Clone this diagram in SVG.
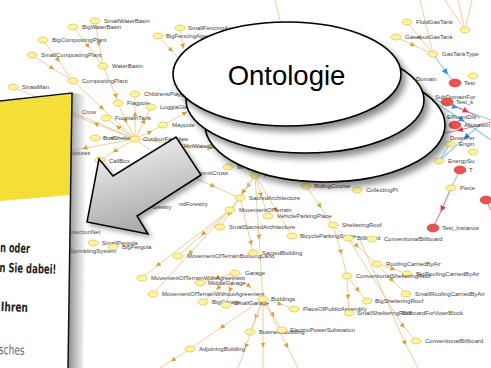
<svg xmlns="http://www.w3.org/2000/svg" width="491" height="368" viewBox="0 0 491 368">
<style>
.e{fill:none;stroke:#ecd09a;stroke-width:1;marker-mid:url(#ah)}
.b{fill:none;stroke:#8ec9f2;stroke-width:1.1;marker-mid:url(#bh)}
.re{fill:none;stroke:#e68080;stroke-width:1.1;marker-mid:url(#rh)}
.n{fill:#fdf4a2;stroke:#e2c453;stroke-width:0.8}
.r{fill:#e8524f;stroke:#d04040;stroke-width:0.6}
.l{font-family:"Liberation Sans",Arial,sans-serif;font-size:6px;fill:#404040}
.pt{font-family:"DejaVu Sans Condensed","DejaVu Sans",sans-serif;font-weight:bold;font-size:13px;fill:#1e1e1e}
.el{fill:#fff;stroke:#000;stroke-width:1.6}
</style>
<defs>
<marker id="ah" viewBox="0 0 6 6" refX="3" refY="3" markerWidth="5" markerHeight="5" orient="auto" markerUnits="userSpaceOnUse"><path d="M0,0 L6,3 L0,6 z" fill="#d9a03c"/></marker>
<marker id="bh" viewBox="0 0 6 6" refX="3" refY="3" markerWidth="6" markerHeight="6" orient="auto" markerUnits="userSpaceOnUse"><path d="M0,0 L6,3 L0,6 z" fill="#2f8fe0"/></marker>
<marker id="rh" viewBox="0 0 6 6" refX="3" refY="3" markerWidth="6" markerHeight="6" orient="auto" markerUnits="userSpaceOnUse"><path d="M0,0 L6,3 L0,6 z" fill="#e03a45"/></marker>
<pattern id="stripes" width="4" height="2" patternUnits="userSpaceOnUse"><rect width="4" height="2" fill="#f8e542"/><rect width="4" height="0.8" fill="#eed52a"/></pattern>
<linearGradient id="pshadow" x1="0" y1="0" x2="1" y2="0"><stop offset="0" stop-color="#555" stop-opacity="0.7"/><stop offset="1" stop-color="#888" stop-opacity="0"/></linearGradient>
<linearGradient id="agrad" x1="0.2" y1="0" x2="0.5" y2="1"><stop offset="0" stop-color="#f4f4f4"/><stop offset="1" stop-color="#a6a6a6"/></linearGradient>
<filter id="sh" x="-10%" y="-10%" width="130%" height="140%"><feGaussianBlur in="SourceAlpha" stdDeviation="3"/><feOffset dx="4" dy="5" result="b"/><feFlood flood-color="#000" flood-opacity="0.45"/><feComposite in2="b" operator="in"/><feMerge><feMergeNode/><feMergeNode in="SourceGraphic"/></feMerge></filter>
<filter id="ash" x="-20%" y="-20%" width="150%" height="150%"><feGaussianBlur in="SourceAlpha" stdDeviation="2.5"/><feOffset dx="3" dy="3" result="b"/><feFlood flood-color="#000" flood-opacity="0.35"/><feComposite in2="b" operator="in"/><feMerge><feMergeNode/><feMergeNode in="SourceGraphic"/></feMerge></filter>
</defs>
<rect width="491" height="368" fill="#fff"/>
<g id="connectors">
<path class="e" d="M95,21 L99,44 L103,66"/>
<path class="e" d="M73,27 L88,46 L103,66"/>
<path class="e" d="M43,40 L58,60 L73,81"/>
<path class="e" d="M32,55 L52,68 L73,81"/>
<path class="e" d="M13,87 L135,139" style="marker:none"/>
<path class="e" d="M103,66 L116,96 L118,103"/>
<path class="e" d="M118,103 L126,121 L135,139"/>
<path class="e" d="M73,81 L102,108 L135,139"/>
<path class="e" d="M135,139 L118,127 L106,118"/>
<path class="e" d="M135,139 L135,114 L135,94"/>
<path class="e" d="M135,139 L144,121 L151,107"/>
<path class="e" d="M135,139 L150,132 L163,125"/>
<path class="e" d="M135,139 L112,138 L95,138"/>
<path class="e" d="M135,139 L115,151 L100,160"/>
<path class="e" d="M135,139 L85,148 L55,153"/>
<path class="e" d="M135,139 L96,124 L66,112"/>
<path class="e" d="M135,139 L210,148 L240,152"/>
<path class="e" d="M135,139 L160,157 L183,173"/>
<path class="e" d="M163,125 L185,113 L198,106"/>
<path class="e" d="M158,36 L171,50 L186,66"/>
<path class="e" d="M180,28 L183,46 L188,66"/>
<path class="e" d="M275,0 L281,24" style="marker:none"/>
<path class="e" d="M183,173 L213,186 L240,198"/>
<path class="e" d="M255,175 L248,186 L240,198"/>
<path class="e" d="M255,175 L243,192 L230,210"/>
<path class="e" d="M255,175 L261,195 L268,216"/>
<path class="e" d="M255,175 L276,210 L292,236"/>
<path class="e" d="M240,198 L229,214 L220,227"/>
<path class="e" d="M240,198 L251,243 L253,253"/>
<path class="e" d="M230,210 L203,234 L178,256"/>
<path class="e" d="M230,210 L158,265 L142,278"/>
<path class="e" d="M230,210 L190,253 L153,294"/>
<path class="e" d="M255,175 L259,237 L263,299"/>
<path class="e" d="M235,273 L249,286 L263,299"/>
<path class="e" d="M235,273 L217,278 L200,283"/>
<path class="e" d="M235,273 L218,288 L203,302"/>
<path class="e" d="M235,273 L230,290 L226,305"/>
<path class="e" d="M263,299 L280,304 L294,309"/>
<path class="e" d="M263,299 L256,317 L250,332"/>
<path class="e" d="M263,299 L273,315 L282,330"/>
<path class="e" d="M263,299 L222,327 L190,349"/>
<path class="e" d="M190,349 L173,360 L160,368"/>
<path class="e" d="M263,299 L246,346 L238,368"/>
<path class="e" d="M263,299 L263,345 L263,368"/>
<path class="e" d="M263,299 L287,346 L298,368"/>
<path class="e" d="M306,186 L320,206 L333,225"/>
<path class="e" d="M333,225 L341,252 L347,276"/>
<path class="e" d="M333,225 L357,246 L377,264"/>
<path class="e" d="M347,276 L348,297 L349,313"/>
<path class="e" d="M347,276 L358,290 L367,301"/>
<path class="e" d="M377,264 L393,269 L407,274"/>
<path class="e" d="M377,264 L392,280 L406,294"/>
<path class="e" d="M348,238 L403,326 L416,341"/>
<path class="e" d="M360,240 L405,343 L418,368"/>
<path class="e" d="M407,22 L420,38 L433,54"/>
<path class="e" d="M396,37 L413,45 L433,54"/>
<path class="e" d="M420,0 L433,54" style="marker:none"/>
<path class="e" d="M445,0 L465,30 M458,0 L465,30 M472,0 L465,30" style="marker:none"/>
<path class="b" d="M433,54 L446,72 L455,83"/>
<path class="b" d="M427,97 L455,107 L491,120"/>
<path class="b" d="M427,97 L462,120 L491,140"/>
<path class="b" d="M480,125 L466,137 L439,161"/>
<path class="b" d="M450,144 L439,161" style="marker:none"/>
<path class="b" d="M460,170 L451,188" style="marker:none"/>
<path class="re" d="M451,188 L442,209 L433,228"/>
<path class="re" d="M447,102 L466,111 L480,118"/>
<path class="re" d="M491,122 L460,130 L445,133"/>
<path class="re" d="M486,200 L491,210" style="marker:none"/>
</g>
<g id="nodes">
<g id="SmallWaterBasin"><ellipse class="n" cx="95" cy="21" rx="5" ry="3"/><text class="l" x="104" y="23">SmallWaterBasin</text></g>
<g id="BigWaterBasin"><ellipse class="n" cx="73" cy="27" rx="5" ry="3"/><text class="l" x="82" y="29">BigWaterBasin</text></g>
<g id="BigCompostingPlant"><ellipse class="n" cx="43" cy="40" rx="5" ry="3"/><text class="l" x="52" y="42">BigCompostingPlant</text></g>
<g id="SmallCompostingPlant"><ellipse class="n" cx="32" cy="55" rx="5" ry="3"/><text class="l" x="41" y="57">SmallCompostingPlant</text></g>
<g id="WaterBasin"><ellipse class="n" cx="103" cy="66" rx="5" ry="3"/><text class="l" x="112" y="68">WaterBasin</text></g>
<g id="CompostingPlant"><ellipse class="n" cx="73" cy="81" rx="5" ry="3"/><text class="l" x="82" y="83">CompostingPlant</text></g>
<g id="StrawMan"><ellipse class="n" cx="13" cy="87" rx="5" ry="3"/><text class="l" x="22" y="89">StrawMan</text></g>
<g id="ChildrensPlayground"><ellipse class="n" cx="135" cy="94" rx="5" ry="3"/><text class="l" x="144" y="96">ChildrensPlayground</text></g>
<g id="Flagpole"><ellipse class="n" cx="118" cy="103" rx="5" ry="3"/><text class="l" x="127" y="105">Flagpole</text></g>
<g id="LoggiaGlazing"><ellipse class="n" cx="151" cy="107" rx="5" ry="3"/><text class="l" x="160" y="109">LoggiaGlazing</text></g>
<g id="FountainTank"><ellipse class="n" cx="106" cy="118" rx="5" ry="3"/><text class="l" x="115" y="120">FountainTank</text></g>
<g id="Crow"><ellipse class="n" cx="64" cy="112" rx="5" ry="3"/><text class="l" x="82" y="114">Crow</text></g>
<g id="BusShelter"><ellipse class="n" cx="95" cy="138" rx="5" ry="3"/><text class="l" x="103" y="140">BusShelter</text></g>
<g id="OutdoorFacilities"><ellipse class="n" cx="135" cy="139" rx="5" ry="3"/><text class="l" x="143" y="141">OutdoorFacilities</text></g>
<g id="Maypole"><ellipse class="n" cx="163" cy="125" rx="5" ry="3"/><text class="l" x="172" y="127">Maypole</text></g>
<g id="HotWaterStorage"><ellipse class="n" cx="176" cy="146" rx="5" ry="3"/><text class="l" x="184" y="148">HotWaterStorage</text></g>
<g id="CallBox"><ellipse class="n" cx="100" cy="160" rx="5" ry="3"/><text class="l" x="109" y="163">CallBox</text></g>
<g id="Sculptures"><ellipse class="n" cx="55" cy="153" rx="5" ry="3"/><text class="l" x="62" y="155">Sculptures</text></g>
<g id="SummitCross"><ellipse class="n" cx="183" cy="173" rx="5" ry="3"/><text class="l" x="192" y="175">SummitCross</text></g>
<g id="MilitaryFacility"><ellipse class="n" cx="228" cy="167" rx="5" ry="3"/><text class="l" x="237" y="169">Mi</text></g>
<g id="Facilities"><ellipse class="n" cx="255" cy="175" rx="5" ry="3"/><text class="l" x="264" y="177">Fa</text></g>
<g id="AgricultureAndForestry"><text class="l" x="110" y="209">AgricultureAndForestry</text><text class="l" x="179" y="206">ndForestry</text></g>
<g id="SacredArchitecture"><ellipse class="n" cx="240" cy="198" rx="5" ry="3"/><text class="l" x="249" y="200">SacredArchitecture</text></g>
<g id="MovementOfTerrain"><ellipse class="n" cx="230" cy="210" rx="5" ry="3"/><text class="l" x="239" y="212">MovementOfTerrain</text></g>
<g id="VehicleParkingPlace"><ellipse class="n" cx="268" cy="216" rx="5" ry="3"/><text class="l" x="277" y="218">VehicleParkingPlace</text></g>
<g id="SmallSacredArchitecture"><ellipse class="n" cx="220" cy="227" rx="5" ry="3"/><text class="l" x="229" y="229">SmallSacredArchitecture</text></g>
<g id="BicycleParkingSpace"><ellipse class="n" cx="292" cy="236" rx="5" ry="3"/><text class="l" x="300" y="238">BicycleParkingSpace</text></g>
<g id="RidingCourse"><ellipse class="n" cx="306" cy="186" rx="5" ry="3"/><text class="l" x="314" y="188">RidingCourse</text></g>
<g id="CollectingPt"><ellipse class="n" cx="357" cy="190" rx="5" ry="3"/><text class="l" x="366" y="192">CollectingPt</text></g>
<g id="ShelteringRoof"><ellipse class="n" cx="333" cy="225" rx="5" ry="3"/><text class="l" x="342" y="227">ShelteringRoof</text></g>
<g id="Billboard"><ellipse class="n" cx="348" cy="238" rx="5" ry="3"/><text class="l" x="357" y="240">Billboard</text></g>
<g id="ConventionalBillboard"><ellipse class="n" cx="372" cy="239" rx="5" ry="3"/><text class="l" x="384" y="241">ConventionalBillboard</text></g>
<g id="MovementOfTerrainBuildingLand"><ellipse class="n" cx="178" cy="256" rx="5" ry="3"/><text class="l" x="187" y="258">MovementOfTerrainBuildingLand</text></g>
<g id="SacredBuilding"><ellipse class="n" cx="253" cy="253" rx="5" ry="3"/><text class="l" x="262" y="255">SacredBuilding</text></g>
<g id="Garage"><ellipse class="n" cx="235" cy="273" rx="5" ry="3"/><text class="l" x="245" y="275">Garage</text></g>
<g id="MovementOfTerrainWithAgreement"><ellipse class="n" cx="142" cy="278" rx="5" ry="3"/><text class="l" x="151" y="280">MovementOfTerrainWithAgreement</text></g>
<g id="MiddleGarage"><ellipse class="n" cx="200" cy="283" rx="5" ry="3"/><text class="l" x="208" y="285">MiddleGarage</text></g>
<g id="MovementOfTerrainWithoutAgreement"><ellipse class="n" cx="153" cy="294" rx="5" ry="3"/><text class="l" x="162" y="296">MovementOfTerrainWithoutAgreement</text></g>
<g id="BigGarage"><ellipse class="n" cx="203" cy="302" rx="5" ry="3"/><text class="l" x="212" y="304">BigGarage</text></g>
<g id="SmallGarage"><ellipse class="n" cx="226" cy="305" rx="5" ry="3"/><text class="l" x="234" y="305">SmallGarage</text></g>
<g id="Buildings"><ellipse class="n" cx="263" cy="299" rx="5" ry="3"/><text class="l" x="271" y="301">Buildings</text></g>
<g id="PlaceOfPublicAssembly"><ellipse class="n" cx="294" cy="309" rx="5" ry="3"/><text class="l" x="303" y="311">PlaceOfPublicAssembly</text></g>
<g id="BusinessBuilding"><ellipse class="n" cx="250" cy="332" rx="5" ry="3"/><text class="l" x="259" y="334">BusinessBuilding</text></g>
<g id="ElectricPowerSubstation"><ellipse class="n" cx="282" cy="330" rx="5" ry="3"/><text class="l" x="290" y="332">ElectricPowerSubstation</text></g>
<g id="AdjoiningBuilding"><ellipse class="n" cx="190" cy="349" rx="5" ry="3"/><text class="l" x="199" y="351">AdjoiningBuilding</text></g>
<g id="RoofingCarriedByAir"><ellipse class="n" cx="377" cy="264" rx="5" ry="3"/><text class="l" x="386" y="266">RoofingCarriedByAir</text></g>
<g id="BigRoofingCarriedByAir"><ellipse class="n" cx="407" cy="274" rx="5" ry="3"/><text class="l" x="416" y="276">BigRoofingCarriedByAir</text></g>
<g id="ConventionalShelteringRoof"><ellipse class="n" cx="347" cy="276" rx="5" ry="3"/><text class="l" x="356" y="278">ConventionalShelteringRoof</text></g>
<g id="SmallRoofingCarriedByAir"><ellipse class="n" cx="406" cy="294" rx="5" ry="3"/><text class="l" x="415" y="296">SmallRoofingCarriedByAir</text></g>
<g id="BigShelteringRoof"><ellipse class="n" cx="367" cy="301" rx="5" ry="3"/><text class="l" x="375" y="303">BigShelteringRoof</text></g>
<g id="SmallShelteringRoof"><ellipse class="n" cx="349" cy="313" rx="5" ry="3"/><text class="l" x="357" y="315">SmallShelteringRoof</text></g>
<g id="BillboardForVoterBlock"><text class="l" x="402" y="315">BillboardForVoterBlock</text></g>
<g id="ConventionalBillboard2"><ellipse class="n" cx="416" cy="341" rx="5" ry="3"/><text class="l" x="425" y="343">ConventionalBillboard</text></g>
<g id="SmallPergola"><ellipse class="n" cx="93" cy="243" rx="5" ry="3"/><text class="l" x="102" y="245">SmallPergola</text></g>
<g id="BigPergola"><ellipse class="n" cx="113" cy="247" rx="5" ry="3"/><text class="l" x="122" y="249">BigPergola</text></g>
<g id="SprinklingSystem"><text class="l" x="70" y="253">SprinklingSystem</text></g>
<g id="ProtectionNet"><text class="l" x="64" y="234">ProtectionNet</text></g>
<g id="SmallFencingAgent"><ellipse class="n" cx="180" cy="28" rx="5" ry="3"/><text class="l" x="188" y="30">SmallFencingAgent</text></g>
<g id="BigFencingAgent"><ellipse class="n" cx="158" cy="36" rx="5" ry="3"/><text class="l" x="166" y="38">BigFencingAgent</text></g>
<g id="FluidGasTank"><ellipse class="n" cx="407" cy="22" rx="5" ry="3"/><text class="l" x="416" y="24">FluidGasTank</text></g>
<g id="GaseousGasTank"><ellipse class="n" cx="396" cy="37" rx="5" ry="3"/><text class="l" x="405" y="39">GaseousGasTank</text></g>
<g id="GasTankType"><ellipse class="n" cx="433" cy="54" rx="5" ry="3"/><text class="l" x="442" y="56">GasTankType</text></g>
<g id="TopNode"><ellipse class="n" cx="465" cy="30" rx="5" ry="3"/></g>
<g id="Domain"><text class="l" x="416" y="81">Domain</text></g>
<g id="Test"><ellipse class="r" cx="455" cy="83" rx="6" ry="4"/><text class="l" x="464" y="85">Test</text></g>
<g id="Y1"><ellipse class="n" cx="473" cy="76" rx="5" ry="3"/></g>
<g id="SubDomainFor"><ellipse class="n" cx="427" cy="97" rx="5" ry="3"/><text class="l" x="435" y="99">SubDomainFor</text></g>
<g id="Test_k"><ellipse class="r" cx="447" cy="102" rx="6" ry="4"/><text class="l" x="456" y="104">Test_k</text></g>
<g id="EffluentDis"><text class="l" x="447" y="119">EffluentDis</text></g>
<g id="Allo"><ellipse class="r" cx="455" cy="125" rx="6" ry="4"/><text class="l" x="464" y="127">Allocation</text></g>
<g id="DownPer"><text class="l" x="450" y="140">DownPer</text></g>
<g id="Engin"><ellipse class="n" cx="450" cy="144" rx="5" ry="3"/><text class="l" x="459" y="146">Engin</text></g>
<g id="Y2"><ellipse class="n" cx="473" cy="152" rx="5" ry="3"/></g>
<g id="EnergySu"><ellipse class="n" cx="439" cy="161" rx="5" ry="3"/><text class="l" x="448" y="163">EnergySu</text></g>
<g id="T"><ellipse class="r" cx="460" cy="170" rx="6" ry="4"/><text class="l" x="469" y="172">T</text></g>
<g id="Piece"><ellipse class="n" cx="451" cy="188" rx="5" ry="3"/><text class="l" x="460" y="190">Piece</text></g>
<g id="Test_Instance"><ellipse class="r" cx="433" cy="228" rx="6" ry="4"/><text class="l" x="442" y="230">Test_Instance</text></g>
<g id="RightRed"><ellipse class="r" cx="486" cy="200" rx="6" ry="4"/></g>
</g>
<g id="panel">
<polygon points="72,93 87,95 83,368 68,368" fill="url(#pshadow)"/>
<polygon points="0,101 72,93 68,368 0,368" fill="#fff"/>
<polygon points="0,102 71.5,94 71,195 0,201" fill="url(#stripes)"/>
<polyline points="0,101 72,93 68,368" fill="none" stroke="#111" stroke-width="1.5"/>
<g transform="rotate(2 0 250)">
<text class="pt" x="0" y="252" textLength="30" lengthAdjust="spacingAndGlyphs">n oder</text>
<text class="pt" x="0" y="272" textLength="57" lengthAdjust="spacingAndGlyphs">n Sie dabei!</text>
<text class="pt" x="3" y="311" textLength="27" lengthAdjust="spacingAndGlyphs">Ihren</text>
<text class="pt" x="0" y="354" textLength="28" lengthAdjust="spacingAndGlyphs" style="font-weight:normal;fill:#666">isches</text>
</g>
</g>
<g id="arrow">
<polygon points="87,222 99,159 113,176 176,137 201,175 137,216 148,234" fill="url(#agrad)" stroke="#000" stroke-width="1.5" stroke-linejoin="miter" filter="url(#ash)"/>
</g>
<g id="ontologie">
<ellipse class="el" cx="325" cy="125" rx="120" ry="57" filter="url(#sh)"/>
<ellipse class="el" cx="305" cy="100" rx="119" ry="53" filter="url(#sh)"/>
<ellipse class="el" cx="287" cy="74" rx="114" ry="52" filter="url(#sh)"/>
<text x="286.5" y="85" text-anchor="middle" font-family="Liberation Sans, Arial, sans-serif" font-size="27.5" fill="#000">Ontologie</text>
</g>
</svg>
